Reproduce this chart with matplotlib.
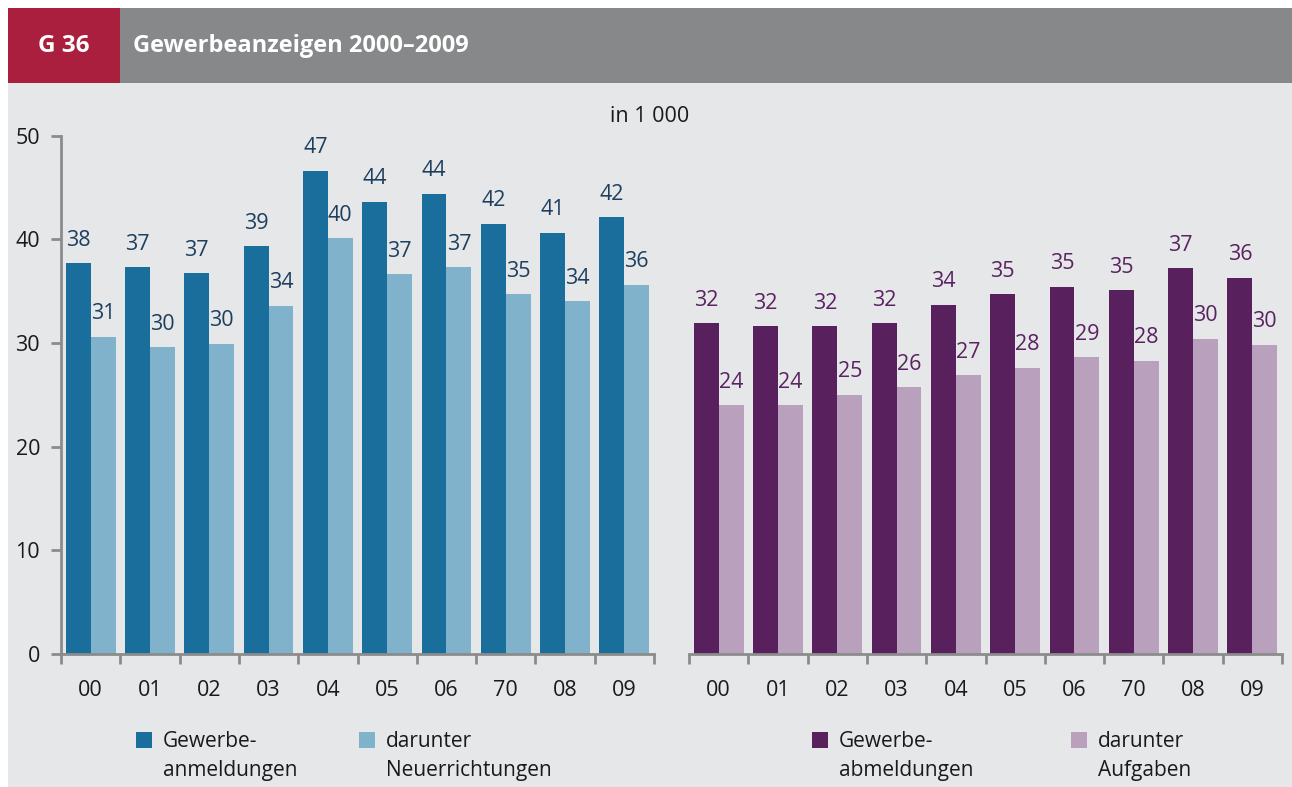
#Gewerbeanzeigen 2000-2009, An- und Abmeldungen in 1 000

import matplotlib.pyplot as plt
from matplotlib.patches import Rectangle
import numpy as np

plt.rcParams['font.family'] = ['Open Sans', 'DejaVu Sans']

jahre = ['00', '01', '02', '03', '04', '05', '06', '70', '08', '09']
anmeldungen = [37.7, 37.3, 36.7, 39.3, 46.6, 43.6, 44.4, 41.5, 40.6, 42.1]
neuerrichtungen = [30.6, 29.6, 29.9, 33.6, 40.1, 36.6, 37.3, 34.7, 34.0, 35.6]
abmeldungen = [31.9, 31.6, 31.6, 31.9, 33.7, 34.7, 35.4, 35.1, 37.2, 36.3]
aufgaben = [24.0, 24.0, 25.0, 25.7, 26.9, 27.6, 28.6, 28.3, 30.4, 29.8]

W, H = 1292, 787
bg = '#e6e7e9'
achse = '#8c8c8c'

fig = plt.figure(figsize=(W / 100, H / 100), dpi=100)
fig.patch.set_facecolor('white')

# Hintergrund und Kopfzeile
fig.patches.append(Rectangle((8 / W, 0), 1 - 8 / W, (H - 8) / H, transform=fig.transFigure,
                             facecolor=bg, edgecolor='none', zorder=-3))
fig.patches.append(Rectangle((8 / W, (H - 83) / H), 112 / W, 75 / H, transform=fig.transFigure,
                             facecolor='#ab1f3e', edgecolor='none', zorder=-2))
fig.patches.append(Rectangle((120 / W, (H - 83) / H), 1 - 120 / W, 75 / H, transform=fig.transFigure,
                             facecolor='#878889', edgecolor='none', zorder=-2))
fig.text(64 / W, 1 - 45.5 / H, 'G 36', color='white', fontsize=17.5, fontweight='bold',
         ha='center', va='center')
fig.text(133 / W, 1 - 45.5 / H, 'Gewerbeanzeigen 2000–2009', color='white', fontsize=17,
         fontweight='bold', ha='left', va='center')
fig.text(650 / W, 1 - 117 / H, 'in 1 000', color='#1a1a1a', fontsize=15.5, ha='center', va='center')

x = np.arange(len(jahre))
bw = 0.42


def panel(left, dunkel, hell, c_dunkel, c_hell, c_text, mit_yachse):
    ax = fig.add_axes([left / W, 133 / H, 593 / W, 518.5 / H])
    ax.set_facecolor('none')
    ax.bar(x - bw / 2, dunkel, bw, color=c_dunkel)
    ax.bar(x + bw / 2, hell, bw, color=c_hell)
    for xs, vals in ((x - bw / 2, dunkel), (x + bw / 2, hell)):
        for xi, v in zip(xs, vals):
            ax.annotate(f'{round(v)}', (xi, v), xytext=(0, 9), textcoords='offset points',
                        ha='center', va='bottom', fontsize=15.5, color=c_text)
    ax.set_xlim(-0.5, len(jahre) - 0.5)
    ax.set_ylim(0, 50)
    for s in ('top', 'right'):
        ax.spines[s].set_visible(False)
    ax.spines['bottom'].set_color(achse)
    ax.spines['bottom'].set_linewidth(2)
    ax.set_xticks(np.arange(len(jahre) + 1) - 0.5)
    ax.set_xticklabels([])
    ax.set_xticks(x, minor=True)
    ax.set_xticklabels(jahre, minor=True, fontsize=15.5, color='#1a1a1a')
    ax.tick_params(axis='x', which='major', length=7, width=2, color=achse)
    ax.tick_params(axis='x', which='minor', length=0, pad=19)
    if mit_yachse:
        ax.spines['left'].set_color(achse)
        ax.spines['left'].set_linewidth(2)
        ax.set_yticks(range(0, 51, 10))
        ax.tick_params(axis='y', length=7, width=2, color=achse, labelsize=15.5,
                       labelcolor='#1a1a1a', pad=8)
    else:
        ax.spines['left'].set_visible(False)
        ax.set_yticks([])
    return ax


panel(61, anmeldungen, neuerrichtungen, '#1a6e9c', '#80b2cb', '#1d3f5e', True)
panel(689, abmeldungen, aufgaben, '#58205c', '#b9a1bd', '#5a2260', False)

# Legenden
legende = [(136, '#1a6e9c', 'Gewerbe-\nanmeldungen'),
           (359, '#80b2cb', 'darunter\nNeuerrichtungen'),
           (812, '#58205c', 'Gewerbe-\nabmeldungen'),
           (1071, '#b9a1bd', 'darunter\nAufgaben')]
for lx, farbe, text in legende:
    fig.patches.append(Rectangle((lx / W, 1 - 748 / H), 16 / W, 16 / H, transform=fig.transFigure,
                                 facecolor=farbe, edgecolor='none'))
    fig.text((lx + 27) / W, 1 - 731 / H, text, fontsize=15, color='#1a1a1a', ha='left', va='top',
             linespacing=1.5)

plt.savefig('out.png', dpi=100, facecolor=fig.get_facecolor())
